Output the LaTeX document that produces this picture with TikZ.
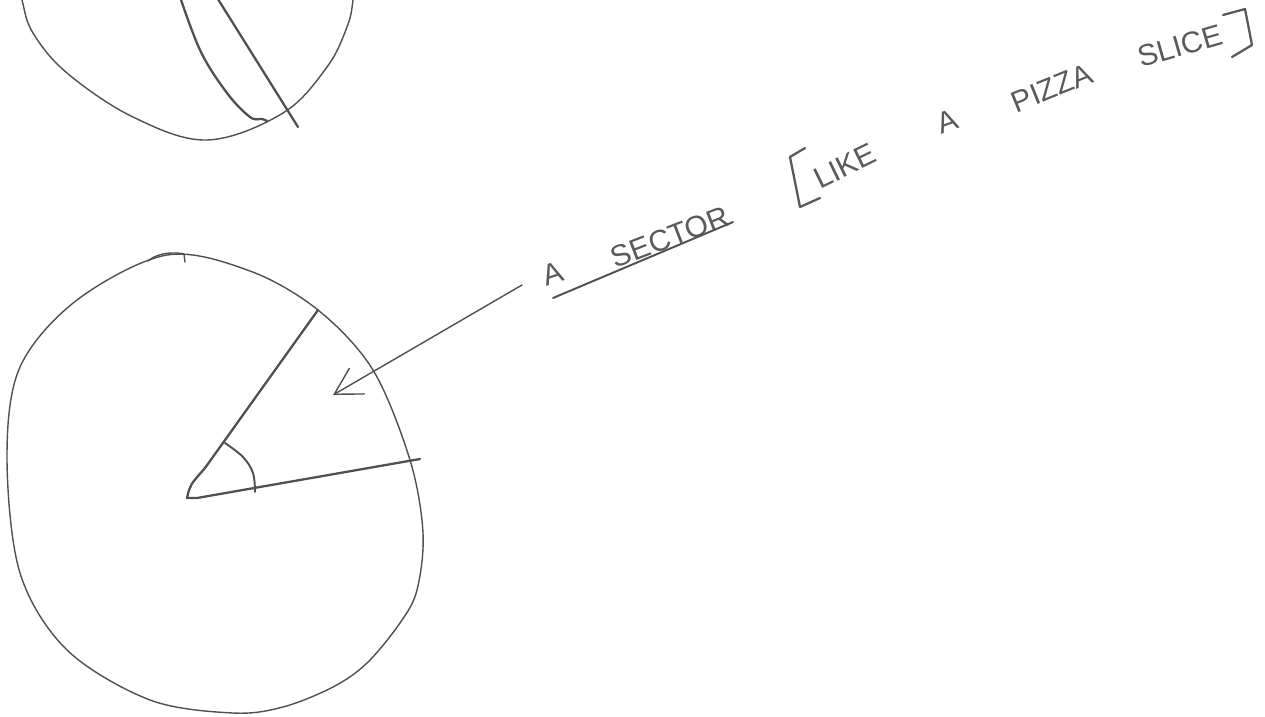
\documentclass[tikz,border=0pt]{standalone}
\usepackage{fontspec}
\setmainfont{Liberation Sans}
\usetikzlibrary{arrows.meta}
\definecolor{pencil}{HTML}{505050}
\definecolor{inkgray}{HTML}{5A5A5A}
\tikzset{
  thinline/.style={draw=pencil, line width=0.8pt, line cap=round, line join=round},
  boldline/.style={draw=pencil, line width=1.3pt, line cap=round, line join=round},
  hand/.style={text=inkgray, font=\fontsize{17}{17}\selectfont, inner sep=0pt},
}
\begin{document}
\begin{tikzpicture}[x=0.02cm, y=-0.02cm]
\useasboundingbox (0,0) rectangle (1265,717);
\begin{scope}
\clip (0,0) rectangle (1265,717);
% top partial circle
\draw[thinline] plot[smooth, tension=0.6] coordinates {(14,-40) (22,0) (33,33) (67,73) (133,117) (207,140) (283,113) (327,67) (347,27) (353,0) (356,-40)};
\draw[boldline] (211,-12) -- (298,127);
\draw[boldline] plot[smooth, tension=0.6] coordinates {(177,-12) (200,50) (227,93) (250,117) (262,119) (267,121)};
\end{scope}
% bottom circle
\draw[thinline] plot[smooth cycle, tension=0.55] coordinates {(167,255) (250,271) (318,310) (373,370) (410,460) (423,533) (417,590) (400,623) (367,663) (333,687) (283,707) (233,713) (150,700) (67,650) (20,573) (7,457) (20,367) (77,300)};
\draw[thinline] (148,261) .. controls (158,252) and (176,252) .. (184,254) -- (185,262);
% sector
\coordinate (c) at (187,498);
\coordinate (r1) at (318,310);
\coordinate (r2) at (420,459);
\draw[boldline] (c) .. controls (190,485) .. (205,468) -- (r1);
\draw[boldline] (c) -- (197,498) -- (r2);
\draw[thinline, line width=1.1pt] plot[smooth, tension=0.6] coordinates {(225,443) (243,457) (253,473) (255,492)};
% arrow
\coordinate (astart) at (522,285);
\coordinate (atip) at (333,395);
\draw[thinline, -{Straight Barb[length=15pt, width=17pt, line width=0.8pt]}] (astart) -- (atip);
% labels
\node[hand, rotate=18] (la) at (553,274) {A};
\node[hand, rotate=21] (lsector) at (670,237) {SECTOR};
\draw[thinline, line width=1.1pt] (553,298) -- (733,222);
\draw[boldline, draw=inkgray] (805,148) -- (790,157) -- (800,207) -- (820,198);
\node[hand, rotate=26] (llike) at (845,166) {LIKE};
\node[hand, rotate=20] (la2) at (947,121) {A};
\node[hand, rotate=22] (lpizza) at (1052,88) {PIZZA};
\node[hand, rotate=16] (lslice) at (1180,46) {SLICE};
\draw[boldline, draw=inkgray] (1223,15) -- (1245,9) -- (1252,45) -- (1232,57);
\end{tikzpicture}
\end{document}
